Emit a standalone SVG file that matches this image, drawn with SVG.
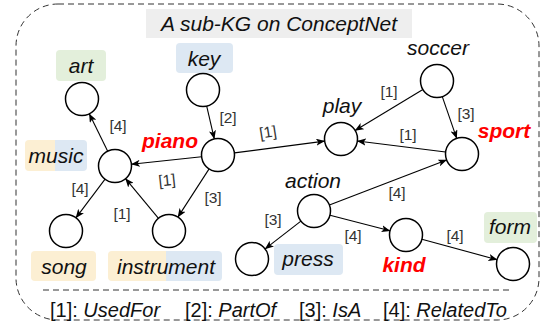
<svg xmlns="http://www.w3.org/2000/svg" width="542" height="324" viewBox="0 0 542 324">
<defs>
<marker id="arr" viewBox="0 0 10 8" refX="9.5" refY="4" markerWidth="9" markerHeight="7.2" markerUnits="userSpaceOnUse" orient="auto">
<path d="M0,0 L10,4 L0,8 L2.5,4 z" fill="#000"/>
</marker>
<style>
.n{fill:#fff;stroke:#000;stroke-width:1.5}
.e{fill:none;stroke:#000;stroke-width:1.1;marker-end:url(#arr)}
.t{font-family:"Liberation Sans",Arial,sans-serif;font-size:21px;font-style:italic;fill:#111;text-anchor:middle}
.r{font-family:"Liberation Sans",Arial,sans-serif;font-size:21px;font-style:italic;font-weight:bold;fill:#ff0000;text-anchor:middle}
.l{font-family:"Liberation Sans",Arial,sans-serif;font-size:15.5px;fill:#333;text-anchor:middle}
.g{font-family:"Liberation Sans",Arial,sans-serif;font-size:20px;fill:#111}
.y{fill:#fcefd3}
.b{fill:#dde8f3}
.gr{fill:#e3efdb}
</style>
</defs>
<rect x="16" y="4" width="523" height="316" rx="42" ry="42" fill="none" stroke="#333" stroke-width="1" stroke-dasharray="6,4"/>
<g id="title">
<rect x="146" y="9" width="266" height="29" fill="#eeeeee"/>
<text class="t" x="279" y="31">A sub-KG on ConceptNet</text>
</g>
<g id="edges">
<line class="e" x1="107.7" y1="151.2" x2="89.3" y2="113.8"/>
<line class="e" x1="206.7" y1="106.1" x2="214.3" y2="138.9"/>
<line class="e" x1="234.4" y1="152.9" x2="324.6" y2="141.1"/>
<line class="e" x1="201.6" y1="156.75" x2="131.4" y2="164.25"/>
<line class="e" x1="209.1" y1="168.9" x2="177.9" y2="217.1"/>
<line class="e" x1="105.1" y1="179.2" x2="75.9" y2="217.8"/>
<line class="e" x1="158.5" y1="218.3" x2="125.5" y2="178.7"/>
<line class="e" x1="422.9" y1="89.5" x2="355.1" y2="130.5"/>
<line class="e" x1="442.3" y1="96.6" x2="456.7" y2="138.4"/>
<line class="e" x1="445.6" y1="152" x2="357.4" y2="141"/>
<line class="e" x1="329.4" y1="205.1" x2="446.6" y2="159.9"/>
<line class="e" x1="300.9" y1="221.1" x2="265.1" y2="248.9"/>
<line class="e" x1="330" y1="215.2" x2="390" y2="230.8"/>
<line class="e" x1="421.9" y1="239.3" x2="497.1" y2="259.7"/>
<text class="l" x="118" y="130.5">[4]</text>
<text class="l" x="228" y="122.5">[2]</text>
<text class="l" x="268" y="137.5" transform="rotate(-9 268 132)">[1]</text>
<text class="l" x="167" y="185.5" transform="rotate(-6 167 180)">[1]</text>
<text class="l" x="213" y="202.5">[3]</text>
<text class="l" x="80" y="193.5">[4]</text>
<text class="l" x="122" y="218.5">[1]</text>
<text class="l" x="389" y="96.5">[1]</text>
<text class="l" x="466" y="118.5">[3]</text>
<text class="l" x="408" y="139.5">[1]</text>
<text class="l" x="397" y="197.5">[4]</text>
<text class="l" x="273" y="224.5">[3]</text>
<text class="l" x="353" y="240.5">[4]</text>
<text class="l" x="455" y="240.5">[4]</text>
</g>
<g id="art">
<rect class="gr" x="56" y="50" width="50" height="31" rx="4"/>
<text class="t" x="81" y="73">art</text>
<circle class="n" cx="82" cy="99" r="16.5"/>
</g>
<g id="key">
<rect class="b" x="176" y="43" width="57" height="30" rx="4"/>
<text class="t" x="204" y="66">key</text>
<circle class="n" cx="203" cy="90" r="16.5"/>
</g>
<g id="music">
<rect class="y" x="25" y="140" width="34" height="31" rx="4"/>
<rect class="b" x="55" y="140" width="32" height="31" rx="4"/>
<rect class="b" x="55" y="140" width="6" height="31"/>
<text class="t" x="56" y="163">music</text>
<circle class="n" cx="115" cy="166" r="16.5"/>
</g>
<g id="piano">
<text class="r" x="170" y="148">piano</text>
<circle class="n" cx="218" cy="155" r="16.5"/>
</g>
<g id="song">
<rect class="y" x="31" y="251" width="65" height="30" rx="4"/>
<text class="t" x="64" y="274">song</text>
<circle class="n" cx="66" cy="231" r="16.5"/>
</g>
<g id="instrument">
<rect class="y" x="108" y="251" width="62" height="30" rx="4"/>
<rect class="b" x="166" y="251" width="56" height="30" rx="4"/>
<rect class="b" x="166" y="251" width="6" height="30"/>
<text class="t" x="166" y="274">instrument</text>
<circle class="n" cx="169" cy="231" r="16.5"/>
</g>
<g id="press">
<rect class="b" x="274" y="244" width="69" height="31" rx="4"/>
<text class="t" x="308" y="266">press</text>
<circle class="n" cx="252" cy="259" r="16.5"/>
</g>
<g id="action">
<text class="t" x="313" y="188">action</text>
<circle class="n" cx="314" cy="211" r="16.5"/>
</g>
<g id="kind">
<text class="r" x="404" y="272">kind</text>
<circle class="n" cx="406" cy="235" r="16.5"/>
</g>
<g id="form">
<rect class="gr" x="484" y="212" width="53" height="31" rx="4"/>
<text class="t" x="510" y="234">form</text>
<circle class="n" cx="513" cy="264" r="16.5"/>
</g>
<g id="play">
<text class="t" x="342" y="113">play</text>
<circle class="n" cx="341" cy="139" r="16.5"/>
</g>
<g id="soccer">
<text class="t" x="438" y="55">soccer</text>
<circle class="n" cx="437" cy="81" r="16.5"/>
</g>
<g id="sport">
<text class="r" x="504" y="138">sport</text>
<circle class="n" cx="462" cy="154" r="16.5"/>
</g>
<g id="legend">
<line x1="43" y1="290" x2="511" y2="290" stroke="#333" stroke-width="1" stroke-dasharray="6,4"/>
<text class="g" x="50" y="317">[1]: <tspan font-style="italic">UsedFor</tspan></text>
<text class="g" x="185" y="317">[2]: <tspan font-style="italic">PartOf</tspan></text>
<text class="g" x="299" y="317">[3]: <tspan font-style="italic">IsA</tspan></text>
<text class="g" x="383" y="317">[4]: <tspan font-style="italic">RelatedTo</tspan></text>
</g>
</svg>
